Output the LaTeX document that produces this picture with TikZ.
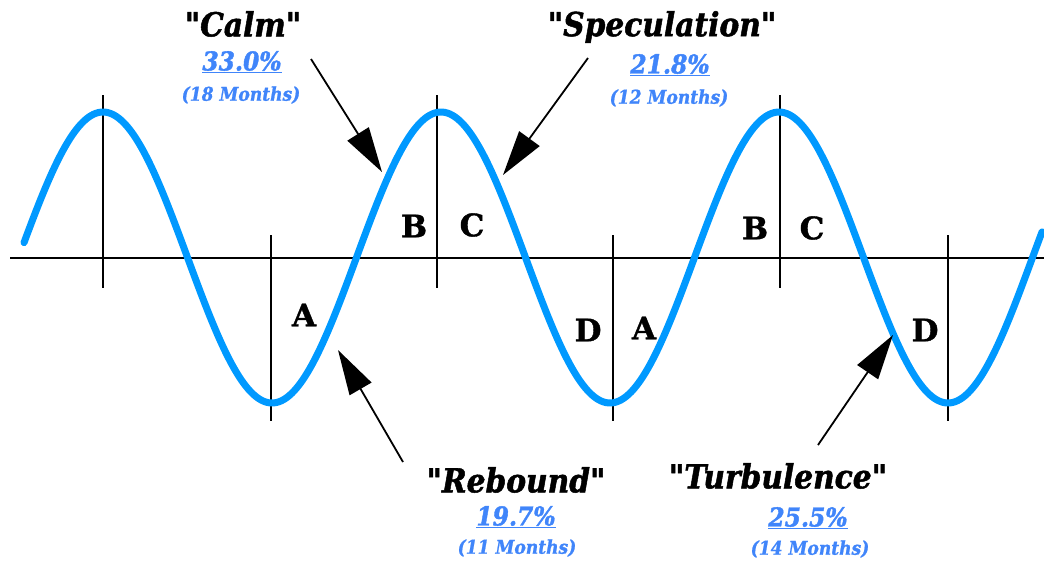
\documentclass[tikz,border=0pt]{standalone}
\usepackage{fontspec}
\setmainfont{DejaVu Serif}[Ligatures=TeXOff, BoldFeatures={FakeBold=1.2}]
\newfontfamily\condfont{DejaVu Serif Condensed}[Ligatures=TeXOff, BoldItalicFeatures={FakeBold=1.5}]
\newfontfamily\condsmall{DejaVu Serif Condensed}[Ligatures=TeXOff, BoldItalicFeatures={FakeBold=1}]
\usetikzlibrary{arrows.meta}
\definecolor{wave}{RGB}{0,153,255}
\definecolor{pct}{RGB}{64,133,250}
\tikzset{
  title/.style={font=\condfont\fontsize{33}{36}\selectfont\bfseries\itshape, inner sep=0pt},
  pcttext/.style={font=\condfont\fontsize{26}{28}\selectfont\bfseries\itshape, text=pct, inner sep=0pt},
  motext/.style={font=\condsmall\fontsize{19}{22}\selectfont\bfseries\itshape, text=pct, inner sep=0pt},
  letter/.style={font=\fontsize{31}{34}\selectfont\bfseries, inner sep=0pt},
  guide/.style={line width=1.6pt},
  pointer/.style={line width=1.8pt, -{Triangle[length=45pt,width=25pt]}},
}
\begin{document}
\begin{tikzpicture}[x=1pt,y=-1pt]
\useasboundingbox (0,0) rectangle (1044,563);
% axis
\coordinate (axL) at (10,258);
\coordinate (axR) at (1044,258);
\draw[line width=2.2pt] (axL) -- (axR);
% guide lines at peaks
\foreach \n/\x in {p1/103,p2/437,p3/780}{
  \coordinate (\n t) at (\x,95);
  \coordinate (\n b) at (\x,288);
  \draw[guide] (\n t) -- (\n b);
}
% guide lines at troughs
\foreach \n/\x in {t1/271,t2/613,t3/948}{
  \coordinate (\n t) at (\x,235);
  \coordinate (\n b) at (\x,421);
  \draw[guide] (\n t) -- (\n b);
}
% wave
\draw[wave, line width=7pt, line cap=round, line join=round]
  plot[domain=24:1042, samples=400, smooth] (\x, {257.5-145.5*cos((\x-103)/338*360)});
% phase letters
\node[letter] (a1) at (304,315) {A};
\node[letter] (b1) at (414,226) {B};
\node[letter] (c1) at (472,225) {C};
\node[letter] (d1) at (588,330) {D};
\node[letter] (a2) at (644,328) {A};
\node[letter] (b2) at (755,228) {B};
\node[letter] (c2) at (812,228) {C};
\node[letter] (d2) at (925,330) {D};
% labels
\node[title] (calm) at (243,24) {"Calm"};
\node[pcttext] (calmp) at (242,62) {\underline{33.0\%}};
\node[motext] (calmm) at (241,95) {(18 Months)};
\node[title] (spec) at (662,27) {"Speculation"};
\node[pcttext] (specp) at (670,65) {\underline{21.8\%}};
\node[motext] (specm) at (669,98) {(12 Months)};
\node[title] (reb) at (516,480) {"Rebound"};
\node[pcttext] (rebp) at (516,517) {\underline{19.7\%}};
\node[motext] (rebm) at (517,548) {(11 Months)};
\node[title] (turb) at (778,476) {"Turbulence"};
\node[pcttext] (turbp) at (808,518) {\underline{25.5\%}};
\node[motext] (turbm) at (810,549) {(14 Months)};
% arrows
\coordinate (calmS) at (311,59);   \coordinate (calmE) at (382,172);
\coordinate (specS) at (588,58);   \coordinate (specE) at (503,175);
\coordinate (rebS) at (403,462);   \coordinate (rebE) at (338,350);
\coordinate (turbS) at (818,445);  \coordinate (turbE) at (893,335);
\draw[pointer] (calmS) -- (calmE);
\draw[pointer] (specS) -- (specE);
\draw[pointer] (rebS) -- (rebE);
\draw[pointer] (turbS) -- (turbE);
\end{tikzpicture}
\end{document}
